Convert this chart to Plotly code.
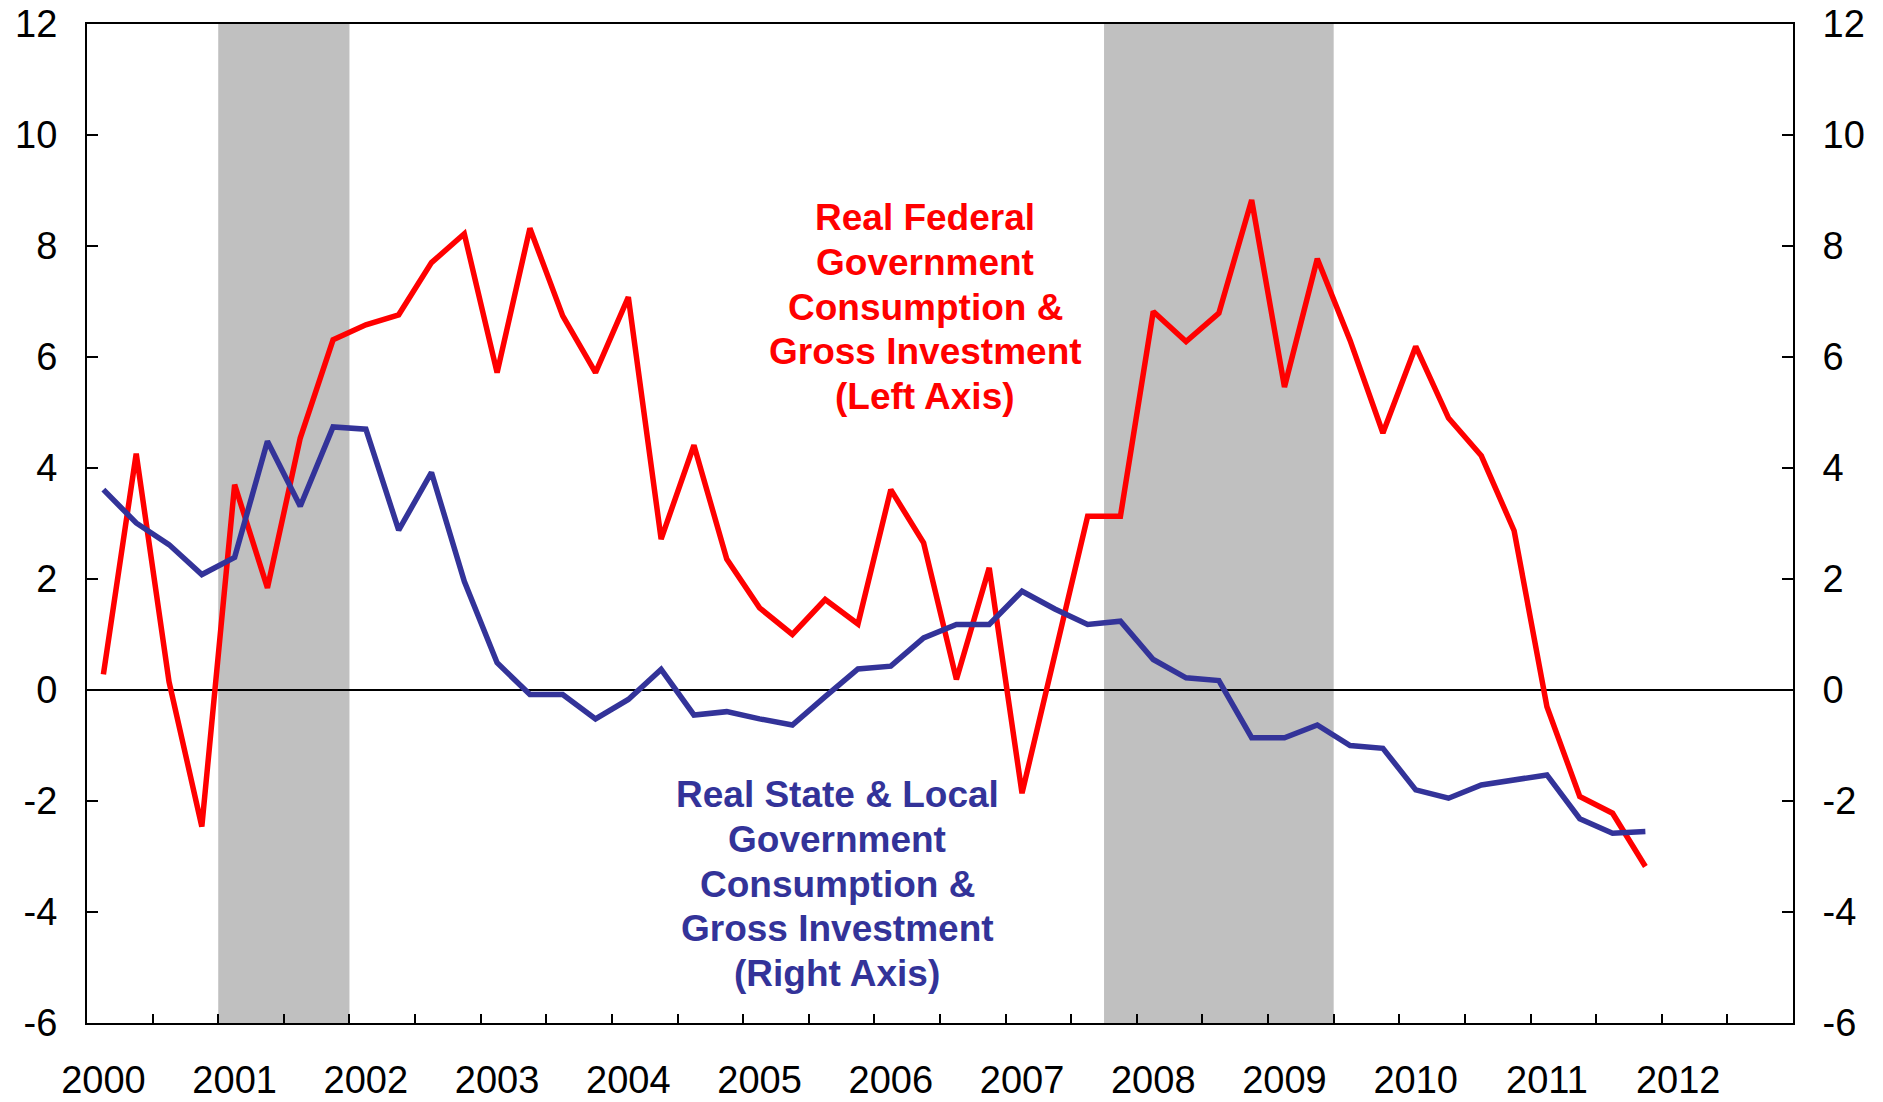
import plotly.graph_objects as go

# quarterly categories on the x axis, 2000Q1 .. 2012Q4
quarters = [f"{y}Q{q}" for y in range(2000, 2013) for q in range(1, 5)]
year_labels = [str(y) for y in range(2000, 2013)]
y_ticks = [-6, -4, -2, 0, 2, 4, 6, 8, 10, 12]

# real federal government consumption & gross investment (left axis)
federal = [
    0.28, 4.26, 0.15, -2.46, 3.70, 1.84, 4.54, 6.31,
    6.58, 6.76, 7.70, 8.22, 5.72, 8.32, 6.74, 5.72,
    7.08, 2.72, 4.41, 2.36, 1.48, 1.00, 1.63, 1.19,
    3.61, 2.65, 0.19, 2.20, -1.86, 0.65, 3.13, 3.13,
    6.82, 6.28, 6.79, 8.83, 5.46, 7.77, 6.30, 4.63,
    6.19, 4.90, 4.22, 2.87, -0.30, -1.92, -2.22, -3.18,
]

# real state & local government consumption & gross investment (right axis)
state_local = [
    3.61, 3.01, 2.62, 2.08, 2.39, 4.48, 3.31, 4.74,
    4.70, 2.88, 3.92, 1.96, 0.49, -0.08, -0.08, -0.52,
    -0.17, 0.37, -0.45, -0.39, -0.52, -0.63, -0.12, 0.38,
    0.43, 0.94, 1.18, 1.18, 1.78, 1.46, 1.18, 1.24,
    0.55, 0.22, 0.17, -0.86, -0.86, -0.63, -1.00, -1.05,
    -1.80, -1.95, -1.71, -1.63, -1.53, -2.32, -2.58, -2.55,
]

# recessions (first and last quarter)
recessions = [("2001Q1", "2001Q4"), ("2007Q4", "2009Q2")]

federal_label = ["Real Federal", "Government", "Consumption &",
                 "Gross Investment", "(Left Axis)"]
state_label = ["Real State & Local", "Government", "Consumption &",
               "Gross Investment", "(Right Axis)"]

RED = "#FF0000"
BLUE = "#333399"
FONT = "Arial, Liberation Sans, sans-serif"

x = list(range(len(federal)))
qtext = quarters[: len(federal)]

fig = go.Figure()
fig.add_trace(go.Scatter(
    x=x, y=federal, text=qtext, mode="lines", name="Federal",
    line=dict(color=RED, width=5.5), yaxis="y",
))
fig.add_trace(go.Scatter(
    x=x, y=state_local, text=qtext, mode="lines", name="State & Local",
    line=dict(color=BLUE, width=5.5), yaxis="y2",
))

for start, end in recessions:
    fig.add_shape(
        type="rect", xref="x", yref="paper",
        x0=quarters.index(start) - 0.5, x1=quarters.index(end) + 0.5,
        y0=0, y1=1, fillcolor="#C0C0C0", line_width=0, layer="below",
    )


def add_label(lines, xc, yc, color):
    # one annotation per line so the line spacing matches the original
    mid = (len(lines) - 1) / 2
    for i, line in enumerate(lines):
        fig.add_annotation(
            x=xc, y=yc, xref="x", yref="y", showarrow=False,
            yshift=(mid - i) * 44.7, text=line,
            font=dict(family=FONT, size=37, color=color, weight="bold"),
        )


add_label(federal_label, 25.05, 6.9, RED)
add_label(state_label, 22.37, -3.5, BLUE)

yaxis_common = dict(
    range=[-6, 12], tickmode="array", tickvals=y_ticks,
    ticktext=[str(v) for v in y_ticks],
    ticks="inside", ticklen=11, tickwidth=2, tickcolor="black",
    showline=True, linewidth=2, linecolor="black", automargin=False,
    showgrid=False, tickfont=dict(family=FONT, size=38, color="black"),
    ticklabelstandoff=20, ticklabeloverflow="allow",
)

fig.update_layout(
    width=1883, height=1102,
    margin=dict(l=87, r=90, t=24, b=79),
    plot_bgcolor="white", paper_bgcolor="white",
    showlegend=False,
    xaxis=dict(
        range=[-0.5, len(quarters) - 0.5],
        tickmode="array",
        tickvals=[quarters.index(f"{y}Q1") for y in year_labels],
        ticktext=year_labels,
        ticks="", showgrid=False, zeroline=False, automargin=False,
        showline=True, linewidth=2, linecolor="black", mirror=True,
        tickfont=dict(family=FONT, size=38, color="black"),
        ticklabelstandoff=22, ticklabeloverflow="allow",
        minor=dict(
            tickmode="array",
            tickvals=[i - 0.5 for i in range(2, len(quarters), 2)],
            ticks="inside", ticklen=9, tickwidth=2, tickcolor="black",
            showgrid=False,
        ),
    ),
    yaxis=dict(**yaxis_common, side="left", zeroline=True,
               zerolinecolor="black", zerolinewidth=1.5),
    yaxis2=dict(**yaxis_common, side="right", overlaying="y", zeroline=False),
)

# drop the default body margin so the figure fills the window exactly
fig.write_html(
    "out.html",
    config={"displayModeBar": False},
    post_script="document.body.style.margin='0';document.body.style.overflow='hidden';",
)
